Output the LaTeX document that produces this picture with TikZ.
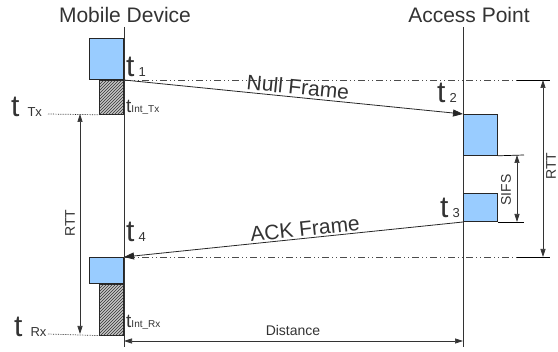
\documentclass[tikz,border=0pt]{standalone}
\usepackage{fontspec}
\setmainfont{Liberation Sans}
\usetikzlibrary{arrows.meta, patterns}
\definecolor{framefill}{HTML}{99CCFF}
\definecolor{txtgray}{HTML}{333333}
\newcommand{\fs}[1]{\fontsize{#1}{#1}\selectfont}
\newcommand{\tmark}[2][4pt]{{\fs{30}t}\hspace{#1}{\fs{13}#2}}
\newcommand{\tint}[1]{{\fs{19}t}{\fs{10}#1}}

\begin{document}
\begin{tikzpicture}[x=1pt, y=-1pt, font=\color{txtgray},
    every node/.style={inner sep=0pt},
    lifeline/.style={draw=black!80, line width=0.8pt},
    frame/.style={draw=black!85, fill=framefill, line width=0.8pt},
    hatchbox/.style={draw=black!85, fill=gray!45, line width=0.8pt, postaction={pattern=north east lines, pattern color=black!80}},
    msg/.style={draw=black!85, line width=0.8pt, -{Triangle[length=10pt, width=7pt]}},
    dim/.style={draw=black!80, line width=0.7pt, {Triangle[length=8pt, width=5pt]}-{Triangle[length=8pt, width=5pt]}},
    refline/.style={draw=black!70, line width=0.7pt, dash pattern=on 7pt off 3pt on 1pt off 3pt on 1pt off 3pt},
    txline/.style={draw=black!85, line width=0.7pt, densely dotted}]
\useasboundingbox (0,0) rectangle (558,352);

\node (md) at (125,15) {\fs{21}Mobile Device};
\node (ap) at (469,15) {\fs{21}Access Point};
\coordinate (md top) at (124,27);
\coordinate (md bot) at (124,347);
\coordinate (ap top) at (463,27);
\coordinate (ap bot) at (463,347);
\draw[lifeline] (md top) -- (md bot);
\draw[lifeline] (ap top) -- (ap bot);

\node[frame, minimum width=34pt, minimum height=41pt, anchor=south east] (mdtx) at (124,80) {};
\node[hatchbox, minimum width=24pt, minimum height=34pt, anchor=north east] (inttx) at (mdtx.south east) {};
\node[frame, minimum width=34pt, minimum height=41pt, anchor=north west] (aprx) at (463,114) {};
\node[frame, minimum width=34pt, minimum height=28pt, anchor=south west] (aptx) at (463,222) {};
\node[frame, minimum width=34pt, minimum height=26pt, anchor=north east] (mdrx) at (124,257) {};
\node[hatchbox, minimum width=24pt, minimum height=51pt, anchor=north east] (intrx) at (mdrx.south east) {};

\coordinate (top dash) at (517,80);
\coordinate (top end) at (550,80);
\coordinate (bot dash) at (517,257);
\coordinate (bot end) at (550,257);
\draw[refline] (mdtx.south east) -- (top dash);
\draw[line width=0.7pt] (top dash) -- (top end);
\draw[refline] (mdrx.north east) -- (bot dash);
\draw[line width=0.7pt] (bot dash) -- (bot end);

\draw[msg] (mdtx.south east) -- (aprx.north west);
\node[rotate=-5.7] (nulllab) at (298,87) {\fs{21}Null Frame};
\draw[msg] (aptx.south west) -- (mdrx.north east);
\node[rotate=5.9] (acklab) at (305,229) {\fs{21}ACK Frame};

\node[anchor=base west] (t1) at (126,77) {\tmark{1}};
\node[anchor=base east] (t2) at (457,103) {\tmark{2}};
\node[anchor=base east] (t3) at (460,218) {\tmark{3}};
\node[anchor=base west] (t4) at (126,242) {\tmark{4}};
\node[anchor=base west] (ttx) at (11,117) {\tmark[8pt]{Tx}};
\node[anchor=base west] (trx) at (14,337) {\tmark[8pt]{Rx}};
\node[anchor=base west] (tinttx) at (126,113) {\tint{Int\_Tx}};
\node[anchor=base west] (tintrx) at (126,328) {\tint{Int\_Rx}};

\coordinate (tx start) at (48,114);
\coordinate (rx start) at (48,334);
\draw[txline] (tx start) -- (inttx.south west);
\draw[txline] (rx start) -- (intrx.south west);

\coordinate (rtt left a) at (80,114);
\coordinate (rtt left b) at (80,334);
\draw[dim] (rtt left a) -- (rtt left b);
\node[rotate=90] (rttl) at (70,223) {\fs{14}RTT};

\coordinate (rtt right a) at (543,80);
\coordinate (rtt right b) at (543,257);
\draw[dim] (rtt right a) -- (rtt right b);
\node[rotate=90] (rttr) at (551,166) {\fs{14}RTT};

\coordinate (sifs a) at (524,155);
\coordinate (sifs b) at (524,222);
\draw[line width=0.7pt] (aprx.south east) -- (sifs a);
\draw[line width=0.7pt] (aptx.south east) -- (sifs b);
\draw[dim] (517,155) -- (517,222);
\node[rotate=90] (sifs) at (506,190) {\fs{14}SIFS};

\coordinate (dist a) at (124,341);
\coordinate (dist b) at (463,341);
\draw[dim] (dist a) -- (dist b);
\node (distlab) at (293,330) {\fs{14}Distance};
\end{tikzpicture}
\end{document}
